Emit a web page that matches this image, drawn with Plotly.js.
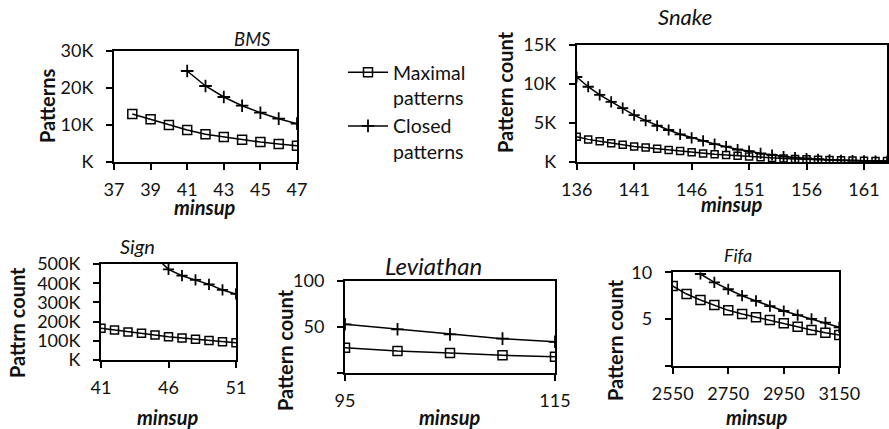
<!DOCTYPE html>
<html>
<head>
<meta charset="utf-8">
<script src="https://cdn.plot.ly/plotly-3.0.1.min.js"></script>
<style>html,body{margin:0;padding:0;background:#fff;}#chart{width:889px;height:429px;}</style>
</head>
<body>
<div id="chart"></div>
<script>
// ---------- DATA ----------
const bmsMinsup      = [38, 39, 40, 41, 42, 43, 44, 45, 46, 47];
const bmsMaximal     = [12970, 11540, 10000, 8650, 7480, 6760, 6040, 5400, 4860, 4410];
const bmsClosedSup   = [41, 42, 43, 44, 45, 46, 47];
const bmsClosed      = [24600, 20540, 17570, 15220, 13330, 11710, 10360];

const snakeMinsup    = [136,137,138,139,140,141,142,143,144,145,146,147,148,149,150,151,152,153,154,155,156,157,158,159,160,161,162,163];
const snakeMaximal   = [3250,2900,2650,2400,2200,2000,1850,1700,1550,1400,1250,1100,1000,900,800,700,600,500,450,400,350,300,250,220,190,160,140,120];
const snakeClosed    = [10900,9650,8600,7700,6900,6000,5300,4650,4100,3550,3100,2700,2300,1960,1600,1400,1100,900,700,550,450,350,280,220,180,140,110,90];

const signMinsup     = [41, 42, 43, 44, 45, 46, 47, 48, 49, 50, 51];
const signMaximal    = [165000, 156000, 146000, 139000, 130000, 121000, 115000, 108000, 101000, 95000, 90000];
const signClosedSup  = [45, 46, 47, 48, 49, 50, 51];
const signClosed     = [540000, 472000, 439000, 417000, 394000, 365000, 344000];

const levMinsup      = [95, 100, 105, 110, 115];
const levMaximal     = [27.6, 24, 21.9, 19.4, 18];
const levClosed      = [52.9, 47.5, 42, 37.4, 34];

const fifaMinsup     = [2550,2600,2650,2700,2750,2800,2850,2900,2950,3000,3050,3100,3150];
const fifaMaximal    = [8.54,7.68,7.04,6.51,5.94,5.55,5.2,4.91,4.56,4.2,3.84,3.55,3.31];
const fifaClosedSup  = [2650,2700,2750,2800,2850,2900,2950,3000,3050,3100,3150];
const fifaClosed     = [9.82,8.93,8.19,7.5,6.94,6.4,5.87,5.44,5.02,4.62,4.13];

// tick labels
const bmsXTicks   = [37, 39, 41, 43, 45, 47];
const bmsYTicks   = [0, 10000, 20000, 30000];
const bmsYText    = ['K', '10K', '20K', '30K'];
const snakeXTicks = [136, 141, 146, 151, 156, 161];
const snakeYTicks = [0, 5000, 10000, 15000];
const snakeYText  = ['K', '5K', '10K', '15K'];
const signXTicks  = [41, 46, 51];
const signYTicks  = [0, 100000, 200000, 300000, 400000, 500000];
const signYText   = ['K', '100K', '200K', '300K', '400K', '500K'];
const levXTicks   = [95, 115];
const levYTicks   = [0, 50, 100];
const levYText    = ['', '50', '100'];
const fifaXTicks  = [2550, 2750, 2950, 3150];
const fifaYTicks  = [0, 5, 10];
const fifaYText   = ['', '5', '10'];

const seriesNames = ['Maximal<br>patterns', 'Closed<br>patterns'];

// ---------- STYLE ----------
const FONT = 'Lato, "Open Sans", sans-serif';
const W = 889, H = 429;
const px = v => v / W;
const py = v => 1 - v / H;

function sqTrace(x, y, xa, ya, size, show) {
  return {x, y, xaxis: xa, yaxis: ya, type: 'scatter', mode: 'lines+markers',
    name: seriesNames[0], showlegend: !!show, legendgroup: 'm',
    line: {color: '#000', width: 1.5},
    marker: {symbol: 'square-open', size: size, color: '#000', line: {width: 1.5, color: '#000'}}};
}
function crTrace(x, y, xa, ya, size, show) {
  return {x, y, xaxis: xa, yaxis: ya, type: 'scatter', mode: 'lines+markers',
    name: seriesNames[1], showlegend: !!show, legendgroup: 'c',
    line: {color: '#000', width: 1.5},
    marker: {symbol: 'cross-thin-open', size: size, color: '#000', line: {width: 1.8, color: '#000'}}};
}

const data = [
  sqTrace(bmsMinsup, bmsMaximal, 'x', 'y', 9, true),
  crTrace(bmsClosedSup, bmsClosed, 'x', 'y', 9, true),
  sqTrace(snakeMinsup, snakeMaximal, 'x2', 'y2', 7),
  crTrace(snakeMinsup, snakeClosed, 'x2', 'y2', 8),
  sqTrace(signMinsup, signMaximal, 'x3', 'y3', 8),
  crTrace(signClosedSup, signClosed, 'x3', 'y3', 8),
  sqTrace(levMinsup, levMaximal, 'x4', 'y4', 9),
  crTrace(levMinsup, levClosed, 'x4', 'y4', 9),
  sqTrace(fifaMinsup, fifaMaximal, 'x5', 'y5', 9),
  crTrace(fifaClosedSup, fifaClosed, 'x5', 'y5', 8)
];

function xax(domain, range, ticks, anchor) {
  return {domain, range, anchor, tickmode: 'array', tickvals: ticks, ticktext: ticks.map(String),
    showline: true, mirror: true, linecolor: '#000', linewidth: 2, showgrid: false, zeroline: false,
    ticks: 'outside', ticklen: 6, tickwidth: 2, tickcolor: '#000', ticklabelstandoff: 4,
    tickfont: {family: FONT, size: 18, color: '#111'}, fixedrange: true};
}
function yax(domain, range, ticks, text, anchor) {
  return {domain, range, anchor, tickmode: 'array', tickvals: ticks, ticktext: text,
    showline: true, mirror: true, linecolor: '#000', linewidth: 2, showgrid: false, zeroline: false,
    ticks: 'outside', ticklen: 6, tickwidth: 2, tickcolor: '#000', ticklabelstandoff: 9,
    tickfont: {family: FONT, size: 18, color: '#111'}, fixedrange: true};
}

function ann(text, x, y, opts) {
  return Object.assign({text, x: px(x), y: py(y), xref: 'paper', yref: 'paper', showarrow: false,
    xanchor: 'center', yanchor: 'middle', font: {family: FONT, size: 16, color: '#111'}}, opts || {});
}
const titleF = s => ({family: FONT, size: s, color: '#111', style: 'italic'});
const boldF  = {family: FONT, size: 20, color: '#111', weight: 'bold'};
const minF   = {family: FONT, size: 20, color: '#111', weight: 'bold', style: 'italic'};

const layout = {
  width: W, height: H, margin: {l: 0, r: 0, t: 0, b: 0},
  paper_bgcolor: '#fff', plot_bgcolor: '#fff', font: {family: FONT},
  xaxis:  xax([px(114), px(297)], [37, 47], bmsXTicks, 'y'),
  yaxis:  yax([py(162), py(51)], [0, 30000], bmsYTicks, bmsYText, 'x'),
  xaxis2: xax([px(576.7), px(887)], [136, 163], snakeXTicks, 'y2'),
  yaxis2: yax([py(162), py(45)], [0, 15000], snakeYTicks, snakeYText, 'x2'),
  xaxis3: xax([px(101), px(236)], [41, 51], signXTicks, 'y3'),
  yaxis3: yax([py(360), py(264)], [0, 500000], signYTicks, signYText, 'x3'),
  xaxis4: xax([px(345), px(555)], [95, 115], levXTicks, 'y4'),
  yaxis4: yax([py(373.3), py(280.7)], [0, 100], levYTicks, levYText, 'x4'),
  xaxis5: xax([px(672.7), px(839.3)], [2550, 3150], fifaXTicks, 'y5'),
  yaxis5: yax([py(366), py(272.3)], [0, 10], fifaYTicks, fifaYText, 'x5'),
  showlegend: true,
  legend: {x: px(343), y: py(53), xanchor: 'left', yanchor: 'top', valign: 'top',
    font: {family: FONT, size: 19.5, color: '#111'}, bgcolor: 'rgba(0,0,0,0)', itemwidth: 40,
    tracegroupgap: 0},
  annotations: [
    ann('BMS', 252, 39, {font: titleF(18.5)}),
    ann('Snake', 685, 17, {font: titleF(22)}),
    ann('Sign', 137, 246, {font: titleF(20)}),
    ann('Leviathan', 433, 265, {font: titleF(24)}),
    ann('Fifa', 738, 255, {font: titleF(18)}),
    ann('Patterns', 47, 106, {font: boldF, textangle: -90}),
    ann('Pattern count', 505, 92, {font: boldF, textangle: -90}),
    ann('Pattrn count', 17, 323, {font: boldF, textangle: -90}),
    ann('Pattern count', 285, 350, {font: boldF, textangle: -90}),
    ann('Pattern count', 615, 340, {font: boldF, textangle: -90}),
    ann('minsup', 205, 207, {font: minF}),
    ann('minsup', 732, 204, {font: minF}),
    ann('minsup', 168, 417, {font: minF}),
    ann('minsup', 450, 417, {font: minF}),
    ann('minsup', 757, 417, {font: minF})
  ]
};

Plotly.newPlot('chart', data, layout, {staticPlot: true, displayModeBar: false});
</script>
</body>
</html>
